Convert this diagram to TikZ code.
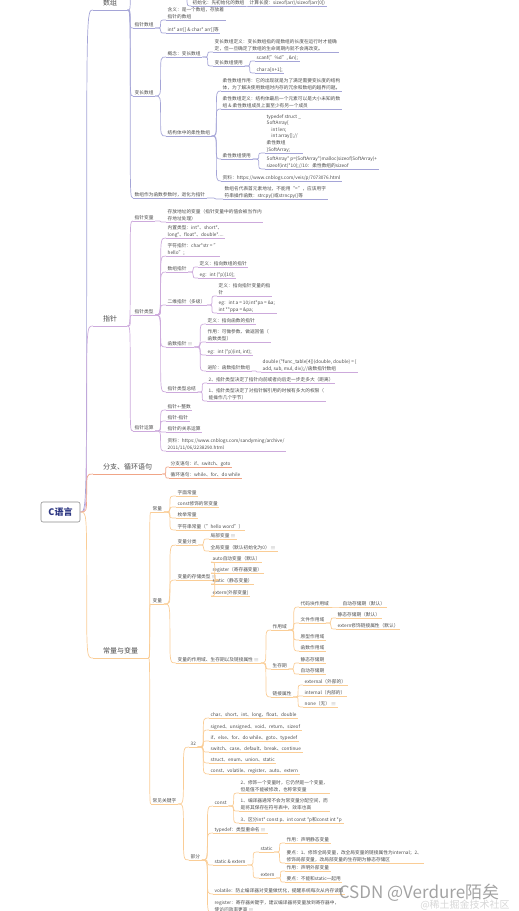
\documentclass[tikz,border=0pt]{standalone}
\usepackage{fontspec}
\setmainfont{Noto Sans CJK SC}
\usetikzlibrary{calc}

\definecolor{txtc}{RGB}{75,75,75}
\definecolor{arrc}{RGB}{165,165,215}
\definecolor{ptrc}{RGB}{205,170,220}
\definecolor{brc}{RGB}{240,165,135}
\definecolor{varc}{RGB}{250,205,150}
\definecolor{rootc}{RGB}{140,140,140}
\definecolor{roottxt}{RGB}{45,55,130}
\definecolor{markc}{RGB}{150,150,150}
\newcommand{\notemark}{\,{\color{markc}$\equiv$}}

\begin{document}
\begin{tikzpicture}[x=1pt,y=-1pt]
  % Styles for topics and links
  \tikzset{
    root/.style={draw=rootc, line width=0.6pt, rounded corners=2pt, minimum width=39pt, minimum height=20pt, font=\fontsize{9}{10}\selectfont\bfseries, text=roottxt},
    main/.style={anchor=south west, inner xsep=10pt, inner ysep=2.4pt, text depth=1.5pt, font=\fontsize{7}{8}\selectfont, text=txtc,
      append after command={(\tikzlastnode.south west) edge[uline] (\tikzlastnode.south east)}},
    topic/.style={anchor=south west, inner xsep=1.5pt, inner ysep=1pt, text depth=0.8pt, align=left, font=\fontsize{4.7}{6.6}\selectfont, text=txtc,
      append after command={(\tikzlastnode.south west) edge[uline] (\tikzlastnode.south east)}},
    uline/.style={line width=0.7pt},
    link/.style={line width=0.7pt, to path={let \p1=(\tikztostart), \p2=(\tikztotarget) in
      .. controls ({(\x1+\x2)/2},\y1) .. ({(\x1+\x2)/2},{(\y1+\y2)/2}) .. controls ({(\x1+\x2)/2},\y2) .. (\tikztotarget)}},
    watermark/.style={text=black!45, opacity=0.8}
  }
  \path[use as bounding box, clip] (0,0) rectangle (519,911);

  % Root
  \node[root] (c) at (60.5,512) {C语言};

  % Array branch
  \begin{scope}[color=arrc]
    \node[main] (arr) at (93,10) {数组};
    \coordinate (arrUp) at (133,-14);
    \coordinate (arrTopUp) at (183,-12);
    \node[topic] (arrTopA) at (191,6) {初始化：先初始化的数组};
    \node[topic] (arrTopB) at (248,6) {计算长度：sizeof(arr)/sizeof(arr[0])};
    \node[topic] (arrPtr) at (133,28) {指针数组};
    \node[topic] (arrPtrDef) at (166,20) {含义：是一个数组，存放着\\指针的数组};
    \node[topic] (arrPtrEg) at (166,33) {int* arr[] \& char* arr[]等};
    \node[topic] (arrVar) at (133,96) {变长数组};
    \node[topic] (arrVla) at (166,57) {概念：变长数组};
    \node[topic] (arrVlaDef) at (213,52) {变长数组定义：变长数组指的是数组的长度在运行时才能确\\定，但一旦确定了数组的生命周期内就不会再改变。};
    \node[topic] (arrVlaUse) at (213,66) {变长数组使用};
    \node[topic] (arrVlaScan) at (255,61) {scanf("\%d", \&n);};
    \node[topic] (arrVlaDecl) at (255,73) {char a[n+1];};
    \node[topic] (arrFlex) at (166,136) {结构体中的柔性数组};
    \node[topic] (arrFlexRole) at (221,91) {柔性数组作用：它的出现就是为了满足需要变长度的结构\\体，为了解决使用数组时内存的冗余和数组的越界问题。};
    \node[topic] (arrFlexDef) at (221,109) {柔性数组定义：结构体最后一个元素可以是大小未知的数\\组 \& 柔性数组成员上面至少有另一个成员};
    \node[topic] (arrFlexUse) at (221,159) {柔性数组使用};
    \node[topic] (arrFlexCode) at (265,153) {typedef struct \_\\SoftArray\{\\\quad int len;\\\quad int array[];//\\柔性数组\\\}SoftArray;};
    \node[topic] (arrFlexMalloc) at (265,169) {SoftArray* p=(SoftArray*)malloc(sizeof(SoftArray)+\\sizeof(int)*10);//10：柔性数组的sizeof};
    \node[topic] (arrFlexRef) at (221,181) {资料：https://www.cnblogs.com/veis/p/7073076.html};
    \node[topic] (arrParam) at (133,198) {数组作为函数参数时，退化为指针};
    \node[topic] (arrParamNote) at (223,199) {数组名代表首元素地址，不能用“=”，应该用字\\符串操作函数：strcpy()或strncpy()等};

    \draw[link] (arr.south east) to (arrUp);
    \draw[link] (arrTopUp) to (arrTopA.south west);
    \draw[link] (arrTopA.south east) to (arrTopB.south west);
    \foreach \k in {arrPtr,arrVar,arrParam} \draw[link] (arr.south east) to (\k.south west);
    \foreach \k in {arrPtrDef,arrPtrEg} \draw[link] (arrPtr.south east) to (\k.south west);
    \foreach \k in {arrVla,arrFlex} \draw[link] (arrVar.south east) to (\k.south west);
    \foreach \k in {arrVlaDef,arrVlaUse} \draw[link] (arrVla.south east) to (\k.south west);
    \foreach \k in {arrVlaScan,arrVlaDecl} \draw[link] (arrVlaUse.south east) to (\k.south west);
    \foreach \k in {arrFlexRole,arrFlexDef,arrFlexUse,arrFlexRef} \draw[link] (arrFlex.south east) to (\k.south west);
    \foreach \k in {arrFlexCode,arrFlexMalloc} \draw[link] (arrFlexUse.south east) to (\k.south west);
    \draw[link] (arrParam.south east) to (arrParamNote.south west);
  \end{scope}

  % Pointer branch
  \begin{scope}[color=ptrc]
    \node[main] (ptr) at (93,326) {指针};
    \node[topic] (ptrVar) at (133,221) {指针变量};
    \node[topic] (ptrVarDef) at (166,222) {存放地址的变量（指针变量中的值会被当作内\\存地址处理）};
    \node[topic] (ptrType) at (133,315) {指针类型};
    \node[topic] (ptrBuiltin) at (166,238) {内置类型：int*、short*、\\long*、float*、double*....};
    \node[topic] (ptrChar) at (166,256) {字符指针：char*str = "\\hello";};
    \node[topic] (ptrArr) at (166,272) {数组指针};
    \node[topic] (ptrArrDef) at (198,267) {定义：指向数组的指针};
    \node[topic] (ptrArrEg) at (198,278) {eg：int (*p)[10];};
    \node[topic] (ptrMulti) at (166,305) {二维指针（多级）};
    \node[topic] (ptrMultiDef) at (217,296) {定义：指向指针变量的指\\针};
    \node[topic] (ptrMultiEg) at (217,313) {eg：int a = 10;int*pa = \&a;\\int **ppa = \&pa;};
    \node[topic] (ptrFunc) at (166,347) {函数指针\notemark};
    \node[topic] (ptrFuncDef) at (206,324) {定义：指向函数的指针};
    \node[topic] (ptrFuncUse) at (206,342) {作用：可做参数、做返回值（\\函数类型）};
    \node[topic] (ptrFuncEg) at (206,355) {eg：int (*p)(int, int);};
    \node[topic] (ptrFuncAdv) at (206,371) {进阶：函数指针数组};
    \node[topic] (ptrFuncTab) at (261,372) {double (*func\_table[4])(double, double) = \{\\add, sub, mul, div\};//函数指针数组};
    \node[topic] (ptrSum) at (166,392) {指针类型总结};
    \node[topic] (ptrSumB) at (207,383) {2、指针类型决定了指针向前或者向后走一步走多大（距离）};
    \node[topic] (ptrSumA) at (207,401) {1、指针类型决定了对指针解引用的时候有多大的权限（\\能操作几个字节）};
    \node[topic] (ptrOp) at (133,431) {指针运算};
    \node[topic] (ptrOpInt) at (166,410) {指针+-整数};
    \node[topic] (ptrOpSub) at (166,421) {指针-指针};
    \node[topic] (ptrOpRel) at (166,432) {指针的关系运算};
    \node[topic] (ptrOpRef) at (166,451) {资料：https://www.cnblogs.com/sandyming/archive/\\2011/11/06/2238290.html};

    \foreach \k in {ptrVar,ptrType,ptrOp} \draw[link] (ptr.south east) to (\k.south west);
    \draw[link] (ptrVar.south east) to (ptrVarDef.south west);
    \foreach \k in {ptrBuiltin,ptrChar,ptrArr,ptrMulti,ptrFunc,ptrSum} \draw[link] (ptrType.south east) to (\k.south west);
    \foreach \k in {ptrArrDef,ptrArrEg} \draw[link] (ptrArr.south east) to (\k.south west);
    \foreach \k in {ptrMultiDef,ptrMultiEg} \draw[link] (ptrMulti.south east) to (\k.south west);
    \foreach \k in {ptrFuncDef,ptrFuncUse,ptrFuncEg,ptrFuncAdv} \draw[link] (ptrFunc.south east) to (\k.south west);
    \draw[link] (ptrFuncAdv.south east) to (ptrFuncTab.south west);
    \foreach \k in {ptrSumB,ptrSumA} \draw[link] (ptrSum.south east) to (\k.south west);
    \foreach \k in {ptrOpInt,ptrOpSub,ptrOpRel,ptrOpRef} \draw[link] (ptrOp.south east) to (\k.south west);
  \end{scope}

  % Branch and loop statements
  \begin{scope}[color=brc]
    \node[main] (br) at (93,474) {分支、循环语句};
    \node[topic] (brIf) at (169,467) {分支语句：if、switch、goto};
    \node[topic] (brLoop) at (169,478) {循环语句：while、for、do while};
    \foreach \k in {brIf,brLoop} \draw[link] (br.south east) to (\k.south west);
  \end{scope}

  % Constants and variables
  \begin{scope}[color=varc]
    \node[main] (var) at (93,658) {常量与变量};
    \node[topic] (cst) at (151,512) {常量};
    \node[topic] (cstLit) at (176,496) {字面常量};
    \node[topic] (cstConst) at (176,507) {const修饰的常变量};
    \node[topic] (cstEnum) at (176,518) {枚举常量};
    \node[topic] (cstStr) at (176,530) {字符串常量（"hello word"）};
    \node[topic] (vr) at (151,604) {变量};
    \node[topic] (vrKind) at (176,545) {变量分类};
    \node[topic] (vrLocal) at (209,539) {局部变量\notemark};
    \node[topic] (vrGlobal) at (209,551) {全局变量（默认初始化为0）\notemark};
    \node[topic] (vrStore) at (176,580) {变量的存储类型\notemark};
    \node[topic] (vrAuto) at (211,562) {auto自动变量（默认）};
    \node[topic] (vrReg) at (211,573) {register（寄存器变量）};
    \node[topic] (vrStatic) at (211,584) {static（静态变量）};
    \node[topic] (vrExtern) at (211,596) {extern(外部变量)};
    \node[topic] (vrScope) at (176,663) {变量的作用域、生存期以及链接属性\notemark};
    \node[topic] (scp) at (271,630) {作用域};
    \node[topic] (scpBlock) at (299,607) {代码块作用域};
    \node[topic] (scpBlockLife) at (341,607) {自动存储期（默认）};
    \node[topic] (scpFile) at (299,623) {文件作用域};
    \node[topic] (scpFileLife) at (336,618) {静态存储期（默认）};
    \node[topic] (scpFileLink) at (336,629) {extern修饰链接属性（默认）};
    \node[topic] (scpProto) at (299,640) {原型作用域};
    \node[topic] (scpFunc) at (299,651) {函数作用域};
    \node[topic] (life) at (271,669) {生存期};
    \node[topic] (lifeStatic) at (299,663) {静态存储期};
    \node[topic] (lifeAuto) at (299,674) {自动存储期};
    \node[topic] (lnk) at (271,697) {链接属性};
    \node[topic] (lnkExt) at (303,685) {external（外部的）};
    \node[topic] (lnkInt) at (303,696) {internal（内部的）};
    \node[topic] (lnkNone) at (303,707) {none（无）\notemark};
    \node[topic] (kw) at (151,804) {常见关键字};
    \node[topic] (kw32) at (189,747) {32};
    \node[topic] (kwA) at (209,718) {char、short、int、long、float、double};
    \node[topic] (kwB) at (209,730) {signed、unsigned、void、return、sizeof};
    \node[topic] (kwC) at (209,741) {if、else、for、do while、goto、typedef};
    \node[topic] (kwD) at (209,752) {switch、case、default、break、continue};
    \node[topic] (kwE) at (209,763) {struct、enum、union、static};
    \node[topic] (kwF) at (209,774) {const、volatile、register、auto、extern};
    \node[topic] (kwPart) at (189,860) {部分};
    \node[topic] (kwConst) at (213,806) {const};
    \node[topic] (kwConstB) at (239,793) {2、修饰一个变量时，它仍然是一个变量，\\但是值不能被修改，也称常变量};
    \node[topic] (kwConstA) at (239,811) {1、编译器通常不会为常变量分配空间，而\\是将其保存在符号表中，效率也高};
    \node[topic] (kwConstC) at (239,823) {3、区分int* const p、int const *p和const int *p};
    \node[topic] (kwTypedef) at (213,833) {typedef：类型重命名\notemark};
    \node[topic] (kwSE) at (213,865) {static \& extern};
    \node[topic] (kwStatic) at (259,852) {static};
    \node[topic] (kwStaticUse) at (285,843) {作用：声明静态变量};
    \node[topic] (kwStaticKey) at (285,863) {要点：1、修饰全局变量，改全局变量的链接属性为internal；2、\\修饰局部变量，改局部变量的生存期为静态存储区};
    \node[topic] (kwExtern) at (259,878) {extern};
    \node[topic] (kwExternUse) at (285,871) {作用：声明外部变量};
    \node[topic] (kwExternKey) at (285,882) {要点：不能和static一起用};
    \node[topic] (kwVol) at (213,894) {volatile：防止编译器对变量做优化，提醒系统每次从内存读取};
    \node[topic] (kwReg) at (213,913) {register：寄存器关键字，建议编译器将变量放到寄存器中，\\使访问效率更高\notemark};

    \foreach \k in {cst,vr,kw} \draw[link] (var.south east) to (\k.south west);
    \foreach \k in {cstLit,cstConst,cstEnum,cstStr} \draw[link] (cst.south east) to (\k.south west);
    \foreach \k in {vrKind,vrStore,vrScope} \draw[link] (vr.south east) to (\k.south west);
    \foreach \k in {vrLocal,vrGlobal} \draw[link] (vrKind.south east) to (\k.south west);
    \foreach \k in {vrAuto,vrReg,vrStatic,vrExtern} \draw[link] (vrStore.south east) to (\k.south west);
    \foreach \k in {scp,life,lnk} \draw[link] (vrScope.south east) to (\k.south west);
    \foreach \k in {scpBlock,scpFile,scpProto,scpFunc} \draw[link] (scp.south east) to (\k.south west);
    \draw[link] (scpBlock.south east) to (scpBlockLife.south west);
    \foreach \k in {scpFileLife,scpFileLink} \draw[link] (scpFile.south east) to (\k.south west);
    \foreach \k in {lifeStatic,lifeAuto} \draw[link] (life.south east) to (\k.south west);
    \foreach \k in {lnkExt,lnkInt,lnkNone} \draw[link] (lnk.south east) to (\k.south west);
    \foreach \k in {kw32,kwPart} \draw[link] (kw.south east) to (\k.south west);
    \foreach \k in {kwA,kwB,kwC,kwD,kwE,kwF} \draw[link] (kw32.south east) to (\k.south west);
    \foreach \k in {kwConst,kwTypedef,kwSE,kwVol,kwReg} \draw[link] (kwPart.south east) to (\k.south west);
    \foreach \k in {kwConstB,kwConstA,kwConstC} \draw[link] (kwConst.south east) to (\k.south west);
    \foreach \k in {kwStatic,kwExtern} \draw[link] (kwSE.south east) to (\k.south west);
    \foreach \k in {kwStaticUse,kwStaticKey} \draw[link] (kwStatic.south east) to (\k.south west);
    \foreach \k in {kwExternUse,kwExternKey} \draw[link] (kwExtern.south east) to (\k.south west);
  \end{scope}

  % Root links
  \draw[link, arrc] (c.east) to (arr.south west);
  \draw[link, ptrc] (c.east) to (ptr.south west);
  \draw[link, brc] (c.east) to (br.south west);
  \draw[link, varc] (c.east) to (var.south west);

  % Watermark
  \node[watermark, font=\fontsize{17}{18}\selectfont] (wm) at (419,893) {CSDN @Verdure陌矣};
  \node[watermark, font=\fontsize{10}{11}\selectfont, opacity=0.35] (wmSub) at (465,905) {@稀土掘金技术社区};
\end{tikzpicture}
\end{document}
